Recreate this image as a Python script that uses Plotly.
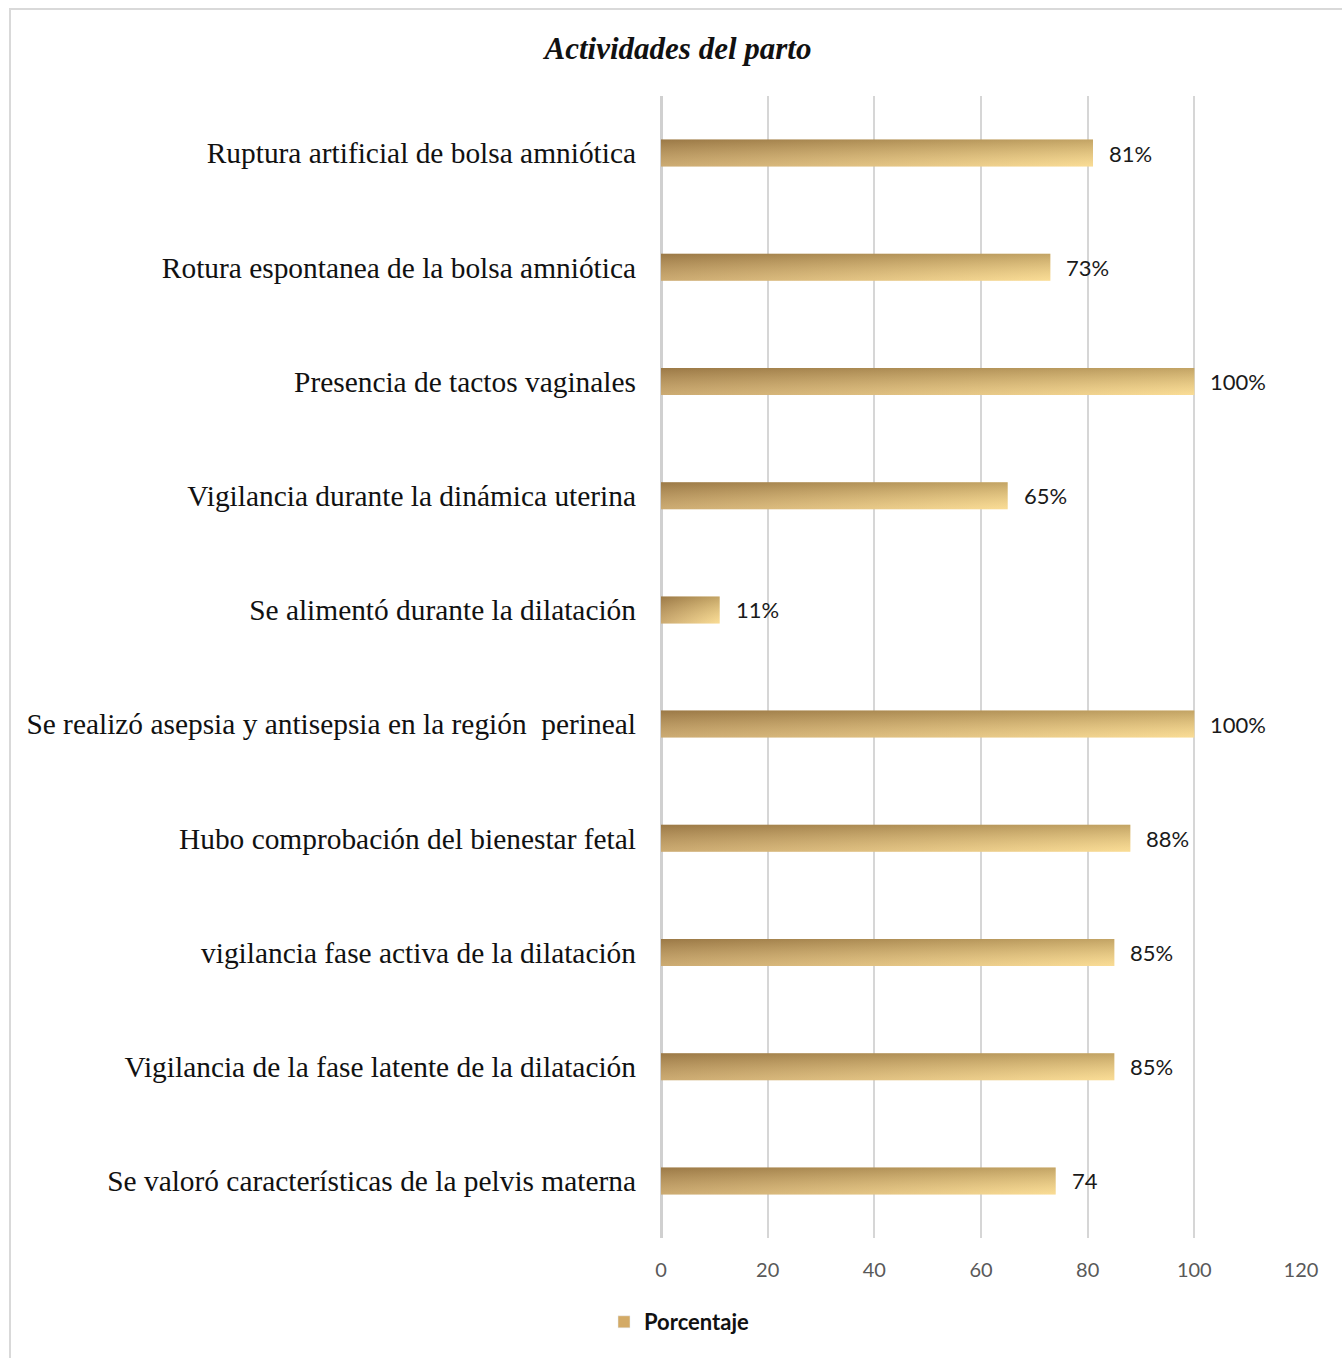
import plotly.graph_objects as go

# Chart data (top to bottom)
categories = [
    "Ruptura artificial de bolsa amniótica",
    "Rotura espontanea de la bolsa amniótica",
    "Presencia de tactos vaginales",
    "Vigilancia durante la dinámica uterina",
    "Se alimentó durante la dilatación",
    "Se realizó asepsia y antisepsia en la región  perineal",
    "Hubo comprobación del bienestar fetal",
    "vigilancia fase activa de la dilatación",
    "Vigilancia de la fase latente de la dilatación",
    "Se valoró características de la pelvis materna",
]
values = [81, 73, 100, 65, 11, 100, 88, 85, 85, 74]
value_labels = ["81%", "73%", "100%", "65%", "11%", "100%", "88%", "85%", "85%", "74"]
x_ticks = [0, 20, 40, 60, 80, 100, 120]
series_name = "Porcentaje"

W, H = 1342, 1358
L, R, T, B = 661, 41, 96, 120
PW, PH = W - L - R, H - T - B
HALF = 0.118  # half bar thickness in category units

fig = go.Figure()

for i, v in enumerate(values):
    xs = [0, v, v, 0, 0]
    ys = [i - HALF, i - HALF, i + HALF, i + HALF, i - HALF]
    # base gold gradient along the bar
    fig.add_trace(go.Scatter(
        x=xs, y=ys, mode="lines", fill="toself",
        line=dict(width=0),
        fillgradient=dict(type="horizontal",
                          colorscale=[[0, "#bb9459"], [1, "#f8d688"]],
                          start=0, stop=v),
        hoverinfo="skip", showlegend=False,
    ))
    # shading from top (darker) to bottom (lighter)
    fig.add_trace(go.Scatter(
        x=xs, y=ys, mode="lines", fill="toself",
        line=dict(width=0),
        fillgradient=dict(type="vertical",
                          colorscale=[[0, "rgba(95,70,35,0.35)"], [1, "rgba(255,240,190,0.25)"]],
                          start=i - HALF, stop=i + HALF),
        hoverinfo="skip", showlegend=False,
    ))

# legend entry
fig.add_trace(go.Bar(x=[None], y=[None], orientation="h", name=series_name,
                     marker=dict(color="#d3aa66"), showlegend=True))

# value labels
for i, (v, t) in enumerate(zip(values, value_labels)):
    fig.add_annotation(x=v, y=i, text=t, showarrow=False, xanchor="left",
                       xshift=14, font=dict(family="Lato, Open Sans, sans-serif", size=22, color="#1a1a1a"))

# outer frame
fig.add_shape(type="rect", xref="paper", yref="paper",
              x0=(10 - L) / PW, x1=(W + 5 - L) / PW,
              y0=-(H + 5 - (T + PH)) / PH, y1=1 + (T - 9) / PH,
              line=dict(color="#d9d9d9", width=2), layer="below")

fig.update_layout(
    width=W, height=H,
    margin=dict(l=L, r=R, t=T, b=B),
    paper_bgcolor="white", plot_bgcolor="white",
    title=dict(text="<b><i>Actividades del parto</i></b>",
               xref="container", yref="container",
               x=678 / W, y=1 - 48 / H, xanchor="center", yanchor="middle",
               font=dict(family="Liberation Serif, Times New Roman, serif", size=31, color="#111111")),
    xaxis=dict(range=[0, 120], tickvals=x_ticks, showgrid=True, gridcolor="#d6d6d6", gridwidth=2,
               zeroline=True, zerolinecolor="#d0d0d0", zerolinewidth=3, showline=False,
               ticks="", ticklabelstandoff=18,
               tickfont=dict(family="Lato, Open Sans, sans-serif", size=20, color="#595959")),
    yaxis=dict(range=[len(categories) - 0.5, -0.5], tickvals=list(range(len(categories))),
               ticktext=categories, showgrid=False, zeroline=False, showline=False,
               ticks="", ticklabelstandoff=24,
               tickfont=dict(family="Liberation Serif, Times New Roman, serif", size=29.4, color="#111111")),
    legend=dict(orientation="h", x=(604 - L) / PW, y=-(1322 - (T + PH)) / PH,
                xanchor="left", yanchor="middle",
                font=dict(family="Lato, Open Sans, sans-serif", size=22, color="#111111", weight="bold"),
                itemwidth=30, bgcolor="rgba(0,0,0,0)"),
    showlegend=True,
)

fig.write_html("out.html")
